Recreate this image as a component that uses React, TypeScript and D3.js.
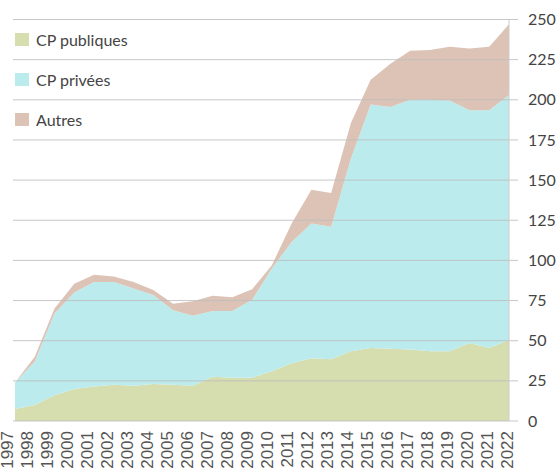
import React from 'react';
import * as d3 from 'd3';

// years along the bottom
const years = [
  1997, 1998, 1999, 2000, 2001, 2002, 2003, 2004, 2005, 2006, 2007, 2008, 2009,
  2010, 2011, 2012, 2013, 2014, 2015, 2016, 2017, 2018, 2019, 2020, 2021, 2022,
];

// series values
const cpPubliques = [
  7.5, 10, 16, 20, 21.5, 22.5, 22, 23, 22.5, 22, 27.5, 27, 27,
  31, 36, 39, 38.5, 43.5, 45.5, 45, 44.5, 43.5, 43.5, 48.5, 45.5, 50.5,
];
const cpPrivees = [
  16.5, 27, 51, 60, 65, 64, 60.5, 55.5, 46.5, 43.5, 41, 41.5, 48.5,
  64, 75.5, 84, 82.5, 120, 151.5, 150.5, 155.5, 156.5, 156, 145, 148, 152.5,
];
const autres = [
  0, 3, 3, 5.5, 4.5, 3.5, 4, 3, 4, 9, 9.5, 8.5, 6.5,
  2, 11.5, 21, 21, 22, 15.5, 27, 30.5, 31, 33.5, 38.5, 39.5, 44,
];

const seriesKeys = ['CP publiques', 'CP privées', 'Autres'];
const seriesColors = ['#d6deb0', '#bcebee', '#dcc3b6'];
const yTicks = [0, 25, 50, 75, 100, 125, 150, 175, 200, 225, 250];

const width = 559, height = 475;
const plot = { left: 15, right: 509, top: 19.5, bottom: 421 };

export default function App() {
  // table for d3.stack
  const rows = years.map((year, i) => ({
    year,
    'CP publiques': cpPubliques[i],
    'CP privées': cpPrivees[i],
    'Autres': autres[i],
  }));
  const stacked = d3.stack<any>().keys(seriesKeys)(rows);

  const x = d3.scaleLinear().domain([years[0], years[years.length - 1]]).range([plot.left, plot.right]);
  const y = d3.scaleLinear().domain([0, 250]).range([plot.bottom, plot.top]);
  // the year labels sit on their own slightly wider spacing
  const xLabel = d3.scalePoint<number>().domain(years).range([7.5, 507.5]);

  const area = d3.area<any>()
    .x((d) => x(d.data.year))
    .y0((d) => y(d[0]))
    .y1((d) => y(d[1]));

  return (
    <svg width={width} height={height} style={{ position: 'absolute', left: 0, top: 0 }}>
      {stacked.map((s, i) => (
        <path key={s.key} d={area(s) || ''} fill={seriesColors[i]} />
      ))}

      {/* gridlines on top of the areas */}
      {yTicks.map((t) => (
        <line key={t} x1={13} x2={518} y1={y(t)} y2={y(t)} stroke="#bdbdbd" strokeOpacity={0.85} strokeWidth={1} />
      ))}
      <line x1={plot.right} x2={plot.right} y1={y(250)} y2={y(0)} stroke="#cccccc" strokeWidth={1} />

      {/* right axis labels */}
      {yTicks.map((t) => (
        <text key={t} x={528} y={y(t)} dy="0.35em" fontFamily="Lato, sans-serif" fontSize={16} fill="#444">
          {t}
        </text>
      ))}

      {/* year labels */}
      {years.map((yr) => (
        <text
          key={yr}
          transform={`translate(${xLabel(yr)},431) rotate(-90)`}
          dy="0.35em"
          textAnchor="end"
          fontFamily="'Liberation Sans', Arial, sans-serif"
          fontSize={17}
          fill="#555"
        >
          {yr}
        </text>
      ))}

      {/* legend */}
      {seriesKeys.map((k, i) => (
        <g key={k} transform={`translate(15,${40 + i * 40})`}>
          <rect x={0} y={-7} width={14} height={13} fill={seriesColors[i]} />
          <text x={21} y={0} dy="0.35em" fontFamily="Lato, sans-serif" fontSize={16} fill="#444">
            {k}
          </text>
        </g>
      ))}
    </svg>
  );
}
